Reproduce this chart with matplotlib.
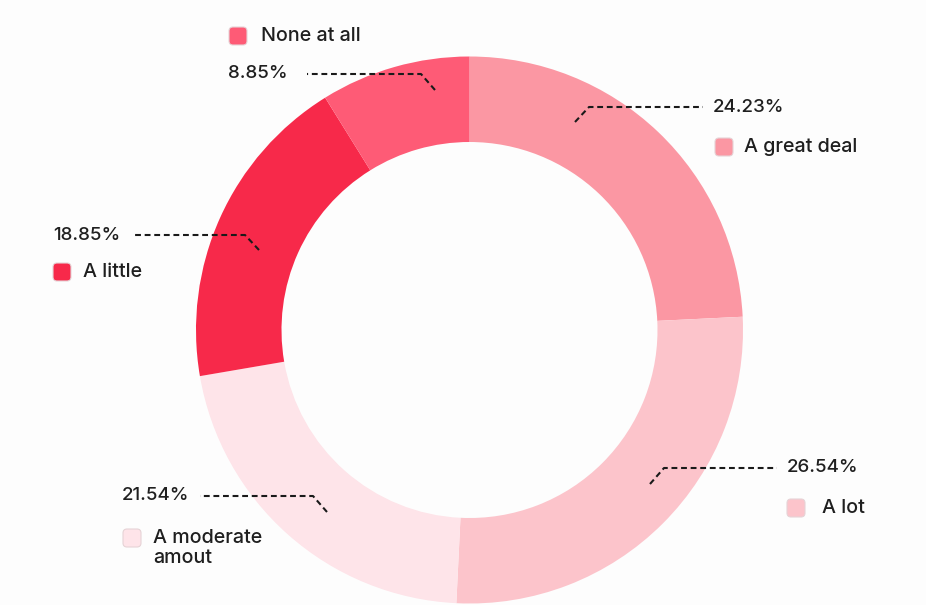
import matplotlib
matplotlib.use("Agg")
import matplotlib.pyplot as plt
from matplotlib.patches import FancyBboxPatch

# Survey answers, clockwise from 12 o'clock
categories = ["A great deal", "A lot", "A moderate\namout", "A little", "None at all"]
shares = [24.23, 26.54, 21.54, 18.85, 8.85]
colors = ["#fb97a3", "#fcc4cb", "#fee4e9", "#f7294a", "#fe5b76"]

W, H = 926, 605

# label layout in pixels (x, y from top): leader anchor, elbow, end, percent text,
# legend key centre-left and label x
layout = [
    dict(anchor=(575, 122), elbow=(589, 107), end=(703, 107), pct=(713, 107), key=(715, 147), lx=744),
    dict(anchor=(650, 484), elbow=(664, 468), end=(777, 468), pct=(787, 467), key=(787, 508), lx=822),
    dict(anchor=(327, 512), elbow=(313, 496), end=(200, 496), pct=(122, 495), key=(123, 538), lx=153),
    dict(anchor=(259, 250), elbow=(245, 235), end=(132, 235), pct=(53, 236), key=(53, 272), lx=83),
    dict(anchor=(435, 90), elbow=(421, 74), end=(307, 74), pct=(228, 74), key=(229, 36), lx=261),
]

plt.rcParams["font.family"] = ["Inter", "DejaVu Sans"]
txt = "#1f1f1f"

fig = plt.figure(figsize=(W / 100, H / 100), dpi=100, facecolor="#fdfdfd")
ax = fig.add_axes([0, 0, 1, 1])
ax.set_facecolor("#fdfdfd")

ax.pie(shares, colors=colors, startangle=90, counterclock=False,
       radius=273.5, center=(469.5, H - 330), frame=True,
       wedgeprops=dict(width=85.5, linewidth=0))

def fy(y):
    return H - y

for cat, val, col, lay in zip(categories, shares, colors, layout):
    pts = [lay["anchor"], lay["elbow"], lay["end"]]
    ax.plot([p[0] for p in pts], [fy(p[1]) for p in pts], color="#1a1a1a",
            lw=1.5, linestyle=(0, (2.8, 1.8)), solid_capstyle="butt")
    ax.text(lay["pct"][0], fy(lay["pct"][1]), f"{val:.2f}%", fontsize=13.5,
            fontweight="medium", color=txt, ha="left", va="center")
    kx, ky = lay["key"]
    ax.add_patch(FancyBboxPatch((kx + 2, fy(ky) - 7), 14, 14,
                                boxstyle="round,pad=2,rounding_size=4",
                                facecolor=col, edgecolor="#e6d3d6", lw=0.8))
    lines = cat.split("\n")
    ax.text(lay["lx"], fy(ky), lines[0], fontsize=14.2, fontweight="medium",
            color=txt, ha="left", va="center")
    if len(lines) > 1:
        ax.text(lay["lx"], fy(ky + 20), lines[1], fontsize=14.2, fontweight="medium",
                color=txt, ha="left", va="center")

ax.set_xlim(0, W)
ax.set_ylim(0, H)
ax.axis("off")

fig.savefig("out.png", dpi=100, facecolor=fig.get_facecolor())
